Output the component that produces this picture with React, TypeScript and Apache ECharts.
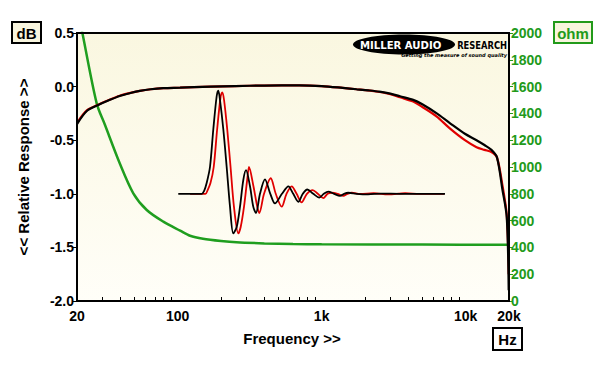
import React, { useEffect, useRef } from 'react';
import * as echarts from 'echarts';

// Frequency response (dB) — shared frequency grid
const respFreq = [20, 23.5, 29, 33, 39.6, 47, 54.6, 65, 79.5, 104, 130, 170, 250, 400, 700, 1000, 1400, 1750, 2100, 2520, 3000, 3500, 4320, 5000, 6300, 7760, 9880, 11900, 13500, 15100, 16500, 18000, 19300, 19900];
const blackResp = [-0.35, -0.225, -0.163, -0.13, -0.087, -0.06, -0.04, -0.025, -0.015, -0.01, -0.005, 0, 0.005, 0.01, 0.012, 0.005, -0.012, -0.025, -0.035, -0.047, -0.065, -0.09, -0.124, -0.165, -0.25, -0.34, -0.44, -0.5, -0.545, -0.59, -0.66, -0.96, -1.22, -1.9];
const redResp = [-0.34, -0.22, -0.16, -0.127, -0.085, -0.058, -0.04, -0.025, -0.015, -0.01, -0.005, 0, 0.005, 0.01, 0.012, 0.005, -0.012, -0.025, -0.035, -0.05, -0.07, -0.1, -0.14, -0.19, -0.28, -0.39, -0.5, -0.565, -0.59, -0.61, -0.66, -0.92, -1.2, -1.75];

// Impulse responses drawn on the same axes
const blackImpFreq = [101, 147, 153, 159, 167.7, 176.8, 186.6, 191.6, 196.8, 207.6, 219, 231, 243.4, 257, 271, 285.8, 298.4, 318, 335, 350, 373, 404, 440, 474, 530, 587, 635, 689, 740, 795, 875, 963, 1035, 1112, 1220, 1341, 1430, 1531, 1750, 2100, 2600, 3500, 4500, 5800, 7190];
const blackImpDb = [-1.0, -1.0, -0.97, -0.9, -0.75, -0.4, -0.09, -0.037, -0.125, -0.4, -0.75, -1.12, -1.37, -1.31, -1.12, -0.87, -0.78, -0.93, -1.12, -1.18, -1.0, -0.865, -1.0, -1.09, -1.0, -0.93, -1.0, -1.075, -1.0, -0.96, -1.0, -1.035, -1.0, -0.98, -1.0, -1.02, -1.0, -0.99, -1.0, -1.005, -0.998, -1.0, -1.0, -1.0, -1.0];
const redImpFreq = [122, 156, 161, 169, 178, 188, 199, 204, 210, 221, 233, 246, 263.6, 274, 289, 304, 313, 336, 357, 369, 398, 443, 480, 528, 570, 619, 670, 726, 790, 867, 940, 1026, 1100, 1174, 1290, 1414, 1510, 1618, 1850, 2300, 2900, 3800, 4800, 6000, 7100];
const redImpDb = [-1.0, -1.0, -0.97, -0.9, -0.75, -0.4, -0.09, -0.055, -0.125, -0.4, -0.75, -1.12, -1.37, -1.31, -1.12, -0.87, -0.75, -0.93, -1.12, -1.18, -1.0, -0.855, -1.0, -1.12, -1.0, -0.93, -1.0, -1.08, -1.0, -0.965, -1.0, -1.04, -1.0, -0.99, -1.0, -1.02, -1.0, -0.99, -1.0, -0.995, -1.005, -0.995, -1.0, -1.0, -1.0];

// Impedance (ohm)
const zFreq = [20, 21.8, 27.4, 31.3, 39.6, 49.2, 61, 79.5, 104, 122, 150, 200, 256, 400, 632, 1000, 5000, 20000];
const zOhm = [2200, 2000, 1475, 1313, 1028, 804, 679, 592, 525, 487, 465, 448, 438, 430, 425, 423, 421, 420];

const xLabelFreqs = [20, 100, 1000, 10000, 20000];
const xGridFreqs = [100, 1000, 10000];
const ohmGrid = [200, 400, 600, 800, 1000, 1200, 1400, 1600, 1800];
const minorTickFreqs = [30, 40, 50, 60, 70, 80, 90, 200, 300, 400, 500, 600, 700, 800, 900, 2000, 3000, 4000, 5000, 6000, 7000, 8000, 9000];
const xLabelMap: Record<number, string> = { 20: '20', 100: '100', 1000: '1k', 10000: '10k', 20000: '20k' };

const zip = (xs: number[], ys: number[]) => xs.map((x, i) => [x, ys[i]]);

const FONT = '"Liberation Sans", Arial, sans-serif';
const GREEN = '#229a1a';
const GRID_COLOR = '#a0a0a0';
const PLOT = { left: 77, top: 33, width: 432, height: 268 };

const staticGraphics = [
  {
    type: 'rect', id: 'frame', z: 100, silent: true,
    shape: { x: PLOT.left, y: PLOT.top, width: PLOT.width, height: PLOT.height },
    style: { fill: 'none', stroke: '#000', lineWidth: 2 },
  },
  { type: 'rect', id: 'dbBox', shape: { x: 12, y: 22, width: 29, height: 21 }, style: { fill: '#F8F5DE', stroke: '#000', lineWidth: 2 } },
  { type: 'text', id: 'dbText', x: 26.5, y: 33, style: { text: 'dB', align: 'center', verticalAlign: 'middle', font: `bold 15px ${FONT}`, fill: '#000' } },
  { type: 'rect', id: 'ohmBox', shape: { x: 554, y: 22, width: 38, height: 21 }, style: { fill: '#F8F5DE', stroke: GREEN, lineWidth: 2 } },
  { type: 'text', id: 'ohmText', x: 573, y: 33, style: { text: 'ohm', align: 'center', verticalAlign: 'middle', font: `bold 15px ${FONT}`, fill: GREEN } },
  { type: 'rect', id: 'hzBox', shape: { x: 493, y: 328, width: 29, height: 22 }, style: { fill: '#ffffff', stroke: '#000', lineWidth: 2 } },
  { type: 'text', id: 'hzText', x: 507.5, y: 339.5, style: { text: 'Hz', align: 'center', verticalAlign: 'middle', font: `bold 15px ${FONT}`, fill: '#000' } },
  { type: 'text', id: 'xTitle', x: 292, y: 338, style: { text: 'Frequency >>', align: 'center', verticalAlign: 'middle', font: `bold 15px ${FONT}`, fill: '#000' } },
  { type: 'text', id: 'yTitle', x: 23, y: 167, rotation: Math.PI / 2, style: { text: '<< Relative Response >>', align: 'center', verticalAlign: 'middle', font: `bold 15px ${FONT}`, fill: '#000' } },
  { type: 'ellipse', id: 'logoEll', z: 10, shape: { cx: 404, cy: 44.5, rx: 51, ry: 10 }, style: { fill: '#000' } },
  { type: 'text', id: 'logo1', z: 11, x: 360, y: 45, scaleX: 0.92, style: { text: 'MILLER AUDIO', align: 'left', verticalAlign: 'middle', font: `bold 11px "DejaVu Sans", sans-serif`, fill: '#fff' } },
  { type: 'text', id: 'logo2', z: 11, x: 507, y: 45, scaleX: 0.76, style: { text: 'RESEARCH', align: 'right', verticalAlign: 'middle', font: `bold 11px "DejaVu Sans", sans-serif`, fill: '#000' } },
  { type: 'text', id: 'logo3', z: 11, x: 507, y: 55, style: { text: 'Getting the measure of sound quality', align: 'right', verticalAlign: 'middle', font: `italic bold 5px "DejaVu Sans", sans-serif`, fill: '#000' } },
];

export default function App() {
  const ref = useRef<HTMLDivElement>(null);
  useEffect(() => {
    if (!ref.current) return;
    const chart = echarts.init(ref.current, undefined, { renderer: 'svg' });
    chart.setOption({
      animation: false,
      backgroundColor: '#ffffff',
      grid: {
        ...PLOT,
        show: true,
        borderWidth: 0,
        backgroundColor: {
          type: 'linear', x: 0, y: 0, x2: 0, y2: 1,
          colorStops: [{ offset: 0, color: '#FAF7E0' }, { offset: 1, color: '#FFFEF8' }],
        },
        outerBoundsMode: 'none',
      },
      xAxis: [
        {
          type: 'log', logBase: 10, min: 20, max: 20000, position: 'bottom',
          axisLine: { show: true, onZero: false, lineStyle: { color: '#000', width: 2 } },
          axisTick: { show: false },
          axisLabel: {
            show: true, margin: 8,
            fontFamily: FONT, fontSize: 14, fontWeight: 'bold', color: '#000',
            customValues: xLabelFreqs,
            formatter: (v: number) => xLabelMap[Math.round(v)] ?? '',
            showMinLabel: true, showMaxLabel: true,
          },
          splitLine: { show: false },
        },
        {
          type: 'log', logBase: 10, min: 20, max: 20000, position: 'bottom',
          axisLine: { show: false, onZero: false },
          axisLabel: { show: false },
          splitLine: { show: false },
          axisTick: { show: true, inside: true, length: 4, customValues: minorTickFreqs, lineStyle: { color: '#000', width: 1 } },
        },
      ],
      yAxis: [
        {
          type: 'value', min: -2, max: 0.5, interval: 0.5, position: 'left',
          axisLine: { show: true, onZero: false, lineStyle: { color: '#000', width: 2 } },
          axisTick: { show: true, length: 5, lineStyle: { color: '#000', width: 1 } },
          axisLabel: {
            margin: 3, fontFamily: FONT, fontSize: 14, fontWeight: 'bold', color: '#000',
            formatter: (v: number) => v.toFixed(1),
          },
          splitLine: { show: false },
        },
        {
          type: 'value', min: 0, max: 2000, interval: 200, position: 'right',
          axisLine: { show: true, onZero: false, lineStyle: { color: '#000', width: 2 } },
          axisTick: { show: true, length: 4, lineStyle: { color: GREEN, width: 1 } },
          axisLabel: {
            margin: 2, fontFamily: FONT, fontSize: 14, fontWeight: 'bold', color: GREEN,
            formatter: (v: number) => String(v),
          },
          splitLine: { show: false },
        },
      ],
      series: [
        {
          type: 'line', name: 'Impedance', xAxisIndex: 0, yAxisIndex: 1, showSymbol: false, symbol: 'none',
          smooth: 0.3, data: zip(zFreq, zOhm), lineStyle: { color: '#1f9e1f', width: 2.5 }, z: 3,
        },
        {
          type: 'line', name: 'Red impulse', xAxisIndex: 0, yAxisIndex: 0, symbol: 'none',
          smooth: 0.3, data: zip(redImpFreq, redImpDb), lineStyle: { color: '#e00000', width: 1.8 }, z: 4,
        },
        {
          type: 'line', name: 'Black impulse', xAxisIndex: 0, yAxisIndex: 0, symbol: 'none',
          smooth: 0.3, data: zip(blackImpFreq, blackImpDb), lineStyle: { color: '#000', width: 1.8 }, z: 5,
        },
        {
          type: 'line', name: 'Red response', xAxisIndex: 0, yAxisIndex: 0, symbol: 'none',
          smooth: 0.3, data: zip(respFreq, redResp), lineStyle: { color: '#e00000', width: 2.2 }, z: 6,
        },
        {
          type: 'line', name: 'Black response', xAxisIndex: 0, yAxisIndex: 0, symbol: 'none',
          smooth: 0.3, data: zip(respFreq, blackResp), lineStyle: { color: '#000', width: 2.2 }, z: 7,
        },
      ],
      graphic: staticGraphics,
    });

    // Grid lines positioned through the chart's own scales
    const x0 = chart.convertToPixel({ xAxisIndex: 0 }, 20) as number;
    const x1 = chart.convertToPixel({ xAxisIndex: 0 }, 20000) as number;
    const yTop = chart.convertToPixel({ yAxisIndex: 1 }, 2000) as number;
    const yBot = chart.convertToPixel({ yAxisIndex: 1 }, 0) as number;
    const gridGraphics: any[] = [];
    ohmGrid.forEach((v, i) => {
      const y = Math.round(chart.convertToPixel({ yAxisIndex: 1 }, v) as number) + 0.5;
      gridGraphics.push({
        type: 'line', id: 'hg' + i, z: -50, silent: true,
        shape: { x1: x0, y1: y, x2: x1, y2: y },
        style: { stroke: GRID_COLOR, lineWidth: 1 },
      });
    });
    xGridFreqs.forEach((f, i) => {
      const x = Math.round(chart.convertToPixel({ xAxisIndex: 0 }, f) as number) + 0.5;
      gridGraphics.push({
        type: 'line', id: 'vg' + i, z: -50, silent: true,
        shape: { x1: x, y1: yTop, x2: x, y2: yBot },
        style: { stroke: GRID_COLOR, lineWidth: 1 },
      });
    });
    chart.setOption({ graphic: [...staticGraphics, ...gridGraphics] });

    return () => chart.dispose();
  }, []);
  return <div ref={ref} style={{ width: 600, height: 368, position: 'absolute', left: 0, top: 0 }} />;
}
